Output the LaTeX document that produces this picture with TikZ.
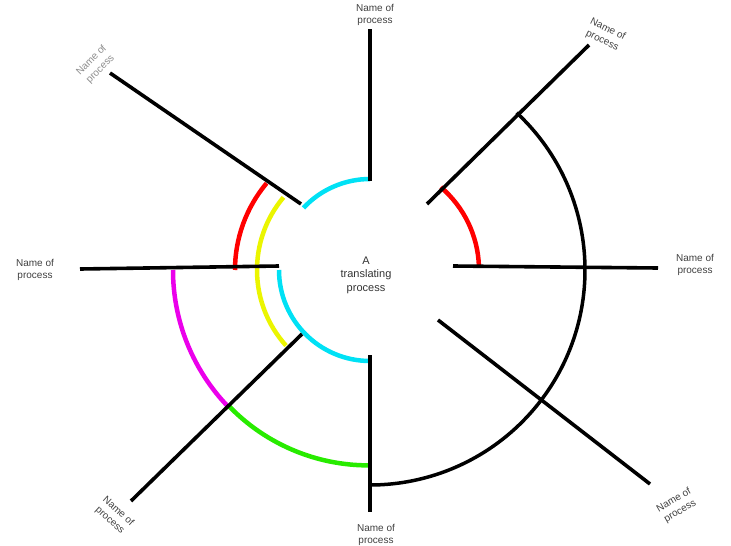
\documentclass[tikz,border=0pt]{standalone}
\usepackage{fontspec}
\setmainfont{Liberation Sans}
\begin{document}
\begin{tikzpicture}[x=1pt,y=-1pt,
  spoke/.style={line width=3.6pt,black},
  ring/.style={line width=4.5pt},
  bigring/.style={line width=3.5pt,black},
  lbl/.style={align=center,font=\fontsize{10}{12.5}\selectfont,text=black!75,inner sep=0pt},
  ctr/.style={align=center,font=\fontsize{11}{13.5}\selectfont,text=black!80,inner sep=0pt}]
\useasboundingbox (0,0) rectangle (731,546);
\definecolor{cyanc}{RGB}{0,225,245}
\definecolor{yel}{RGB}{235,245,0}
\definecolor{mag}{RGB}{235,0,235}
\definecolor{grn}{RGB}{40,235,0}
\definecolor{redc}{RGB}{255,0,0}
\coordinate (C) at (370,270);
% spoke end points
\coordinate (t1) at (370,29);   \coordinate (t2) at (370,181);
\coordinate (tl1) at (110,73);  \coordinate (tl2) at (301,204);
\coordinate (l1) at (80,269);   \coordinate (l2) at (279,266);
\coordinate (bl1) at (131,501); \coordinate (bl2) at (302,334);
\coordinate (b1) at (370,355);  \coordinate (b2) at (370,512);
\coordinate (tr1) at (589,45);  \coordinate (tr2) at (427,204);
\coordinate (r1) at (453,266);  \coordinate (r2) at (658,268);
\coordinate (br1) at (438,320); \coordinate (br2) at (650,484);
% colored arcs (angles negated because the y axis points down)
\draw[ring,redc] (C) ++(-180:135) arc[start angle=-180,end angle=-140,radius=135];
\draw[ring,yel] (C) ++(-140:113) arc[start angle=-140,end angle=-222,radius=113];
\draw[ring,cyanc] (C) ++(-90:91) arc[start angle=-90,end angle=-137,radius=91];
\draw[ring,cyanc] (C) ++(-180:91) arc[start angle=-180,end angle=-270,radius=91];
\draw[ring,mag] (C) ++(-180:197) arc[start angle=-180,end angle=-224,radius=197];
\draw[ring,grn] (C) ++(-224:196) arc[start angle=-224,end angle=-270,radius=194];
\draw[ring,redc] (C) ++(-49.5:109) arc[start angle=-49.5,end angle=-2,radius=109];
\draw[bigring] (C) ++(-47:215) arc[start angle=-47,end angle=90,radius=215];
% spokes
\draw[spoke] (t1) -- (t2);
\draw[spoke] (tl1) -- (tl2);
\draw[spoke] (l1) -- (l2);
\draw[spoke] (bl1) -- (bl2);
\draw[spoke] (b1) -- (b2);
\draw[spoke] (tr1) -- (tr2);
\draw[spoke] (r1) -- (r2);
\draw[spoke] (br1) -- (br2);
% labels
\node[ctr] (centre) at (366,275) {A\\translating\\process};
\node[lbl] (nt) at (375,15) {Name of\\process};
\node[lbl] (nb) at (376,535) {Name of\\process};
\node[lbl] (nl) at (35,270) {Name of\\process};
\node[lbl] (nr) at (695,265) {Name of\\process};
\node[lbl,text=black!45,rotate=45] (ntl) at (96,65) {Name of\\process};
\node[lbl,rotate=-26] (ntr) at (605,35) {Name of\\process};
\node[lbl,rotate=-42] (nbl) at (114,516) {Name of\\process};
\node[lbl,rotate=30] (nbr) at (677,506) {Name of\\process};
\end{tikzpicture}
\end{document}
